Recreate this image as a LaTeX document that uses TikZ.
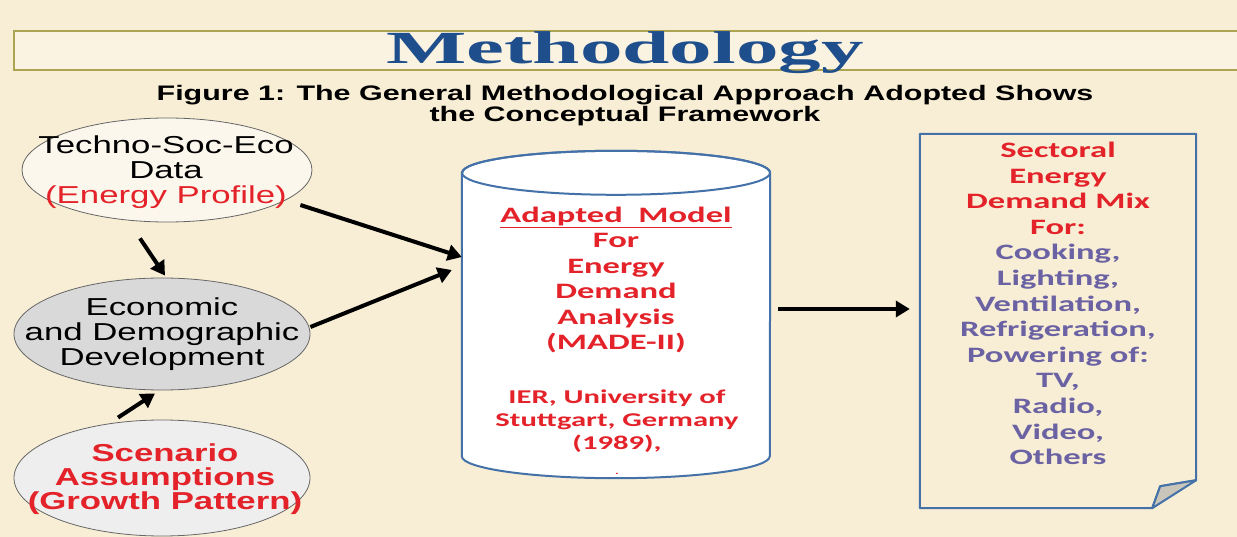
\documentclass[tikz,border=0pt]{standalone}
\usepackage{fontspec}
\usetikzlibrary{arrows.meta,shapes.geometric,calc}
\setmainfont{Liberation Sans}
\newfontfamily\titlefont[FakeStretch=1.85]{Liberation Serif}
\newfontfamily\subfont[FakeStretch=1.45]{Liberation Sans}
\newfontfamily\arialfont[FakeStretch=1.42]{Liberation Sans}
\newfontfamily\califont[FakeStretch=1.57]{Carlito}
\definecolor{bg}{HTML}{F8EED5}
\definecolor{titlefill}{HTML}{FBF3E1}
\definecolor{titleblue}{HTML}{1F4E8C}
\definecolor{boxline}{HTML}{ADA452}
\definecolor{myred}{HTML}{E32229}
\definecolor{mypurple}{HTML}{6B62A4}
\definecolor{blueline}{HTML}{4472A8}
\definecolor{ellgray}{HTML}{D9D9D9}
\definecolor{elllight}{HTML}{EEEEEE}
\definecolor{ellcream}{HTML}{FCF7EC}
\definecolor{foldgray}{HTML}{C9C5BA}
\tikzset{
  ell/.style={ellipse, draw=gray!80!black, line width=0.8pt, inner sep=0pt},
  arr/.style={line width=4pt, -{Triangle[length=14pt,width=16pt]}},
  plain/.style={inner sep=0pt, align=center},
  ellfont/.style={font=\arialfont\fontsize{24.5}{25}\selectfont},
  califnt/.style={font=\califont\bfseries\fontsize{22}{#1}\selectfont},
}
\begin{document}
\begin{tikzpicture}[x=1pt,y=-1pt]
\useasboundingbox (0,0) rectangle (1237,537);
\clip (0,0) rectangle (1237,537);
\fill[bg] (0,0) rectangle (1237,537);
% title
\draw[boxline, fill=titlefill, line width=1.5pt] (14,31) rectangle (1250,70);
\node[plain, anchor=base, text=titleblue, font=\titlefont\bfseries\fontsize{46}{46}\selectfont] (title) at (625,64) {Methodology};
\node[plain, font=\subfont\bfseries\fontsize{21}{21.5}\selectfont] (sub) at (625,105.5)
  {Figure 1: The General Methodological Approach Adopted Shows\\the Conceptual Framework};
% ellipses
\node[ell, fill=ellcream, minimum width=290, minimum height=104] (e1) at (167,170) {};
\node[plain, ellfont] (e1t) at (166,172)
  {Techno-Soc-Eco\\Data\\\textcolor{myred}{(Energy Profile)}};
\node[ell, fill=ellgray, minimum width=296, minimum height=112] (e2) at (162,334) {};
\node[plain, ellfont] (e2t) at (162,334.5)
  {Economic\\and Demographic\\Development};
\node[ell, fill=elllight, minimum width=296, minimum height=116] (e3) at (162,478) {};
\node[plain, font=\arialfont\bfseries\fontsize{24.5}{24}\selectfont, text=myred] (e3t) at (165,479.5)
  {Scenario\\Assumptions\\(Growth Pattern)};
% cylinder
\node[plain, minimum width=308, minimum height=283] (cyl) at (616,314.5) {};
\draw[blueline, line width=2pt, fill=white]
  (cyl.north west) -- (cyl.south west) arc[start angle=180, end angle=360, x radius=154, y radius=-22]
  -- (cyl.north east) arc[start angle=0, end angle=180, x radius=154, y radius=-22] -- cycle;
\draw[blueline, line width=2pt] (cyl.north) ellipse[x radius=154, y radius=22];
\node[plain, califnt=25.5, text=myred] (cyltop) at (616,280)
  {\underline{Adapted\ \ Model}\\For\\Energy\\Demand\\Analysis\\(MADE-II)};
\node[plain, font=\califont\bfseries\fontsize{19.5}{23}\selectfont, text=myred] (cylbot) at (617,432)
  {IER, University of\\Stuttgart, Germany\\(1989),\\[2pt]{\fontsize{9}{23}\selectfont .}};
% document
\node[plain, minimum width=276, minimum height=374] (doc) at (1058,321) {};
\draw[blueline, line width=2pt, line join=round]
  (doc.north west) -- (doc.north east) -- ($(doc.south east)+(0,-28)$)
  -- ($(doc.south east)+(-36,-22)$) -- ($(doc.south east)+(-44,0)$) -- (doc.south west) -- cycle;
\draw[blueline, line width=2pt, line join=round, fill=foldgray]
  ($(doc.south east)+(0,-28)$) -- ($(doc.south east)+(-36,-22)$) -- ($(doc.south east)+(-44,0)$) -- cycle;
\node[plain, califnt=25.58, text=mypurple] (doctext) at (1058,303.5)
  {\textcolor{myred}{Sectoral}\\\textcolor{myred}{Energy}\\\textcolor{myred}{Demand Mix}\\\textcolor{myred}{For:}\\
   Cooking,\\Lighting,\\Ventilation,\\Refrigeration,\\Powering of:\\TV,\\Radio,\\Video,\\Others};
% arrows
\draw[arr] ([xshift=-12pt,yshift=-35pt]e1.east) -- ([yshift=57.5pt]cyl.west);
\draw[arr] ([yshift=7pt]e2.east) -- ([xshift=-10pt,yshift=44.5pt]cyl.west);
\draw[arr] ([xshift=8pt,yshift=5.5pt]cyl.east) -- ([xshift=-10pt,yshift=12pt]doc.west);
\draw[arr] ([xshift=-27pt,yshift=-16pt]e1.south) -- ([xshift=3pt,yshift=2pt]e2.north);
\draw[arr] ([xshift=-44pt,yshift=2pt]e3.north) -- ([xshift=-7pt,yshift=-3pt]e2.south);
\end{tikzpicture}
\end{document}
